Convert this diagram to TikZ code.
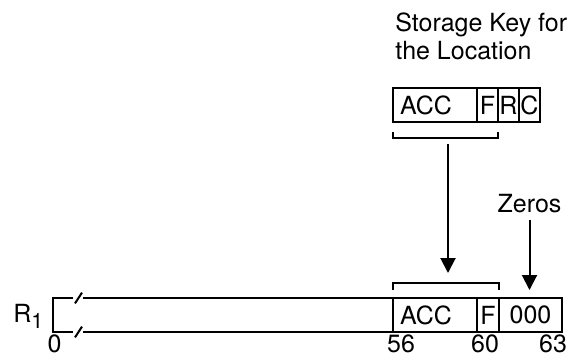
\documentclass[tikz,border=0pt]{standalone}
\usepackage{fontspec}
\setmainfont{TeX Gyre Heros}[Scale=1.25]
\usetikzlibrary{arrows.meta,positioning}
\newcommand\regfont{\fontsize{10}{14}\selectfont}
\tikzset{
  cell/.style={draw,line width=1pt,outer sep=0pt,inner sep=0pt,minimum height=17pt,font=\regfont},
  acccell/.style={cell,minimum width=42pt,text width=35pt,inner xsep=3.5pt,align=left},
  fcell/.style={cell,minimum width=11pt},
  bitcell/.style={cell,minimum width=10.5pt},
  zcell/.style={cell,minimum width=31.5pt},
  lbl/.style={inner sep=0pt,font=\regfont},
  brk/.style={line width=1pt},
  feed/.style={-{Triangle[length=7.5pt,width=7.5pt]},line width=1pt},
}

\begin{document}
\begin{tikzpicture}[x=0.5pt,y=-0.5pt]
  \useasboundingbox (0,0) rectangle (578,355);
  % storage key
  \node[lbl,align=left,anchor=north west] (keylbl) at (395,12) {Storage Key for\\the Location};
  \node[acccell,anchor=north west] (kacc) at (393,88) {ACC};
  \node[fcell,minimum width=10.5pt,right=0pt of kacc] (kf) {F};
  \node[bitcell,right=0pt of kf] (kr) {R};
  \node[bitcell,right=0pt of kr] (kc) {C};
  \draw[brk] ([yshift=-5pt]kacc.south west) -- ([yshift=-8pt]kacc.south west)
    -- ([yshift=-8pt]kf.south east) -- ([yshift=-5pt]kf.south east);
  % register
  \node[acccell,anchor=north west] (racc) at (393,298) {ACC};
  \node[fcell,right=0pt of racc] (rf) {F};
  \node[zcell,right=0pt of rf] (rz) {000};
  \coordinate (rtl) at (53,298);
  \coordinate (rbl) at (53,332);
  \draw[brk] ([xshift=10pt]rtl) -- (rtl) -- (rbl) -- ([xshift=10pt]rbl);
  \draw[brk] ([xshift=15pt]rtl) -- (racc.north west);
  \draw[brk] ([xshift=15pt]rbl) -- (racc.south west);
  \draw[brk] ([xshift=11pt,yshift=-2.7pt]rtl) -- ([xshift=14.5pt,yshift=2.7pt]rtl);
  \draw[brk] ([xshift=11pt,yshift=-2.7pt]rbl) -- ([xshift=14.5pt,yshift=2.7pt]rbl);
  \draw[brk] ([yshift=4pt]racc.north west) -- ([yshift=7.5pt]racc.north west)
    -- ([yshift=7.5pt]rf.north east) -- ([yshift=4pt]rf.north east);
  \node[lbl,anchor=base west] (rname) at (13,322) {R\raisebox{-3pt}{\fontsize{8.5}{10}\selectfont 1}};
  % bit numbers
  \node[lbl] (n0) at (54.5,343.5) {0};
  \node[lbl] (n56) at (401,343.5) {56};
  \node[lbl] (n60) at (485,343.5) {60};
  \node[lbl] (n63) at (553,343.5) {63};
  % arrows
  \coordinate (ksel) at (448,144);
  \coordinate (rsel) at (448,273);
  \draw[feed] (ksel) -- (rsel);
  \node[lbl] (zeros) at (529.5,204) {Zeros};
  \draw[feed] ([yshift=-3pt]zeros.south) -- ([yshift=4pt]zeros.south |- rz.north);
\end{tikzpicture}
\end{document}
